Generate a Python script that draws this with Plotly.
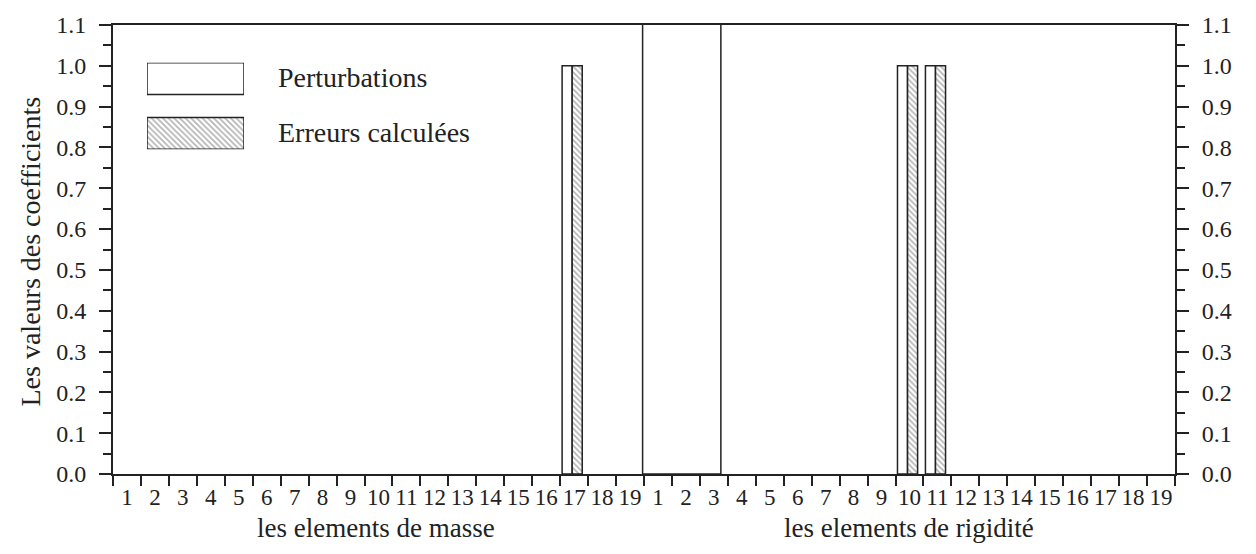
import plotly.graph_objects as go

# ---- data ----
mass_labels = [str(i) for i in range(1, 20)]
rig_labels = [str(i) for i in range(1, 20)]
tick_labels = mass_labels + rig_labels

perturbations = [0]*16 + [1.0] + [0]*2 + [0]*9 + [1.0, 1.0] + [0]*8
erreurs       = [0]*16 + [1.0] + [0]*2 + [0]*9 + [1.0, 1.0] + [0]*8
big_value = [1.2]          # clipped block (beyond 1.1)

y_ticks = [0.0, 0.1, 0.2, 0.3, 0.4, 0.5, 0.6, 0.7, 0.8, 0.9, 1.0, 1.1]
y_ticktext = ["%.1f" % v for v in y_ticks]

legend_names = ["Perturbations", "Erreurs calculées"]

# ---- figure ----
W, H = 1256, 554
L, R, T, B = 113, 81, 22, 80
pw, ph = W - L - R, H - T - B
n = len(tick_labels)
centers = [i + 0.5 for i in range(n)]

FONT = "Liberation Serif"
INK = "#222"

def px_x(p):  # pixel -> paper x
    return (p - L) / pw

def px_y(p):  # pixel -> paper y
    return (H - B - p) / ph

def nz(vals):
    return [v if v else None for v in vals]

fig = go.Figure()

fig.add_trace(go.Bar(
    x=centers, y=nz(perturbations), width=0.36, offset=-0.43,
    marker=dict(color="white", line=dict(color=INK, width=1.5)),
    showlegend=False, name=legend_names[0]))
fig.add_trace(go.Bar(
    x=centers, y=nz(erreurs), width=0.36, offset=-0.07,
    marker=dict(color="white", line=dict(color=INK, width=1.5),
                pattern=dict(shape="\\", fgcolor="#666", size=4, solidity=0.4)),
    showlegend=False, name=legend_names[1]))
fig.add_trace(go.Bar(
    x=[(18.95 + 21.75) / 2], y=big_value, width=21.75 - 18.95,
    marker=dict(color="rgba(0,0,0,0)", line=dict(color=INK, width=1.5)),
    showlegend=False, yaxis="y2"))

# legend swatches drawn as bars in an inset axis
fig.add_trace(go.Bar(
    orientation="h", y=[76, 131], x=[1, 1], base=0, width=32,
    marker=dict(color="white", line=dict(color=INK, width=1.5),
                pattern=dict(shape=["", "\\"], fgcolor="#666", size=4, solidity=0.4)),
    xaxis="x3", yaxis="y3", showlegend=False, hoverinfo="skip"))

tickfont = dict(family=FONT, size=24, color=INK)
xtickfont = dict(family=FONT, size=23, color=INK)

fig.update_layout(
    width=W, height=H,
    margin=dict(l=L, r=R, t=T, b=B),
    paper_bgcolor="white", plot_bgcolor="white",
    barmode="overlay",
    font=dict(family=FONT, color=INK),
    xaxis=dict(range=[0, n], tickvals=centers, ticktext=tick_labels, ticks="",
               tickfont=xtickfont, showgrid=False, zeroline=False,
               showline=True, linecolor=INK, linewidth=2, mirror=True,
               ticklabelstandoff=1,
               minor=dict(tick0=0, dtick=1, ticks="outside", ticklen=10,
                          tickcolor=INK, tickwidth=1.5, showgrid=False)),
    yaxis=dict(range=[0, 1.1], tickvals=y_ticks, ticktext=y_ticktext,
               ticks="outside", ticklen=12, tickwidth=1.5, tickcolor=INK,
               tickfont=tickfont, showgrid=False, zeroline=False,
               showline=True, linecolor=INK, linewidth=2, ticklabelstandoff=8,
               minor=dict(dtick=0.05, tick0=0, ticks="outside", ticklen=8,
                          tickcolor=INK, tickwidth=1.5, showgrid=False)),
    yaxis2=dict(range=[0, 1.1], overlaying="y", side="right",
                tickvals=y_ticks, ticktext=y_ticktext,
                ticks="outside", ticklen=12, tickwidth=1.5, tickcolor=INK,
                tickfont=tickfont, showgrid=False, zeroline=False,
                showline=True, linecolor=INK, linewidth=2, ticklabelstandoff=8,
                minor=dict(dtick=0.05, tick0=0, ticks="outside", ticklen=8,
                           tickcolor=INK, tickwidth=1.5, showgrid=False)),
    xaxis3=dict(domain=[px_x(147), px_x(244)], range=[0, 1], visible=False,
                anchor="y3", fixedrange=True),
    yaxis3=dict(domain=[px_y(147), px_y(60)], range=[147, 60], visible=False,
                anchor="x3", fixedrange=True),
    showlegend=False,
)

ann_font = dict(family=FONT, size=28, color=INK)
title_font = dict(family=FONT, size=27, color=INK)
fig.add_annotation(text=legend_names[0], x=px_x(276), y=px_y(75), xref="paper", yref="paper",
                   xanchor="left", yanchor="middle", showarrow=False, font=ann_font)
fig.add_annotation(text=legend_names[1], x=px_x(276), y=px_y(130), xref="paper", yref="paper",
                   xanchor="left", yanchor="middle", showarrow=False, font=ann_font)
fig.add_annotation(text="les elements de masse", x=px_x(376), y=px_y(528), xref="paper",
                   yref="paper", xanchor="center", yanchor="middle", showarrow=False,
                   font=title_font)
fig.add_annotation(text="les elements de rigidité", x=px_x(909), y=px_y(528), xref="paper",
                   yref="paper", xanchor="center", yanchor="middle", showarrow=False,
                   font=title_font)
fig.add_annotation(text="Les valeurs des coefficients", x=px_x(30), y=px_y(250), xref="paper",
                   yref="paper", xanchor="center", yanchor="middle", textangle=-90,
                   showarrow=False, font=ann_font)

fig.write_html("out.html")
